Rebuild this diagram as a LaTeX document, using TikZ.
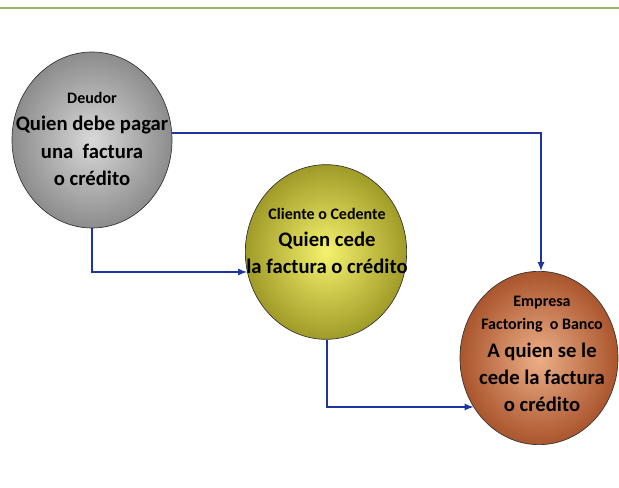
\documentclass[tikz,border=0pt]{standalone}
\usepackage{fontspec}
\setmainfont{Carlito}
\usepackage{tikz}
\usetikzlibrary{arrows,shapes.geometric}
\definecolor{lineagreen}{RGB}{155,181,110}
\definecolor{flechaazul}{RGB}{30,52,160}

\tikzset{
circulo/.style={ellipse,draw=black!80,line width=0.5pt,minimum width=120pt,minimum height=132pt,inner sep=0pt},
texto/.style={align=center,inner sep=0pt,font=\fontsize{15.5}{20.5}\selectfont\bfseries},
flecha/.style={->,>=latex,draw=flechaazul,line width=1.3pt},
}
\newcommand{\peque}{\fontsize{12}{15}\selectfont}

\begin{document}
\begin{tikzpicture}[x=0.75pt,y=-0.75pt]
\useasboundingbox (0,0) rectangle (619,488);
\draw[lineagreen,line width=1.5pt] (0,8) -- (619,8);
% circulos
\node[circulo,inner color=gray!30,outer color=gray!110!black] (deudor) at (92,140) {};
\node[circulo,minimum width=121pt,minimum height=131pt,inner color={rgb,255:red,245;green,242;blue,110},outer color={rgb,255:red,160;green,155;blue,40}] (cliente) at (326,252) {};
\node[circulo,minimum width=118.5pt,minimum height=130pt,inner color={rgb,255:red,236;green,175;blue,135},outer color={rgb,255:red,170;green,85;blue,45}] (empresa) at (539,358) {};
% textos
\node[texto] (deudor-t) at (92,139) {{\peque Deudor}\\
Quien debe pagar\\
una\ \ factura\\
o crédito};
\node[texto] (cliente-t) at (327,241) {{\peque Cliente o Cedente}\\
Quien cede\\
la factura o crédito};
\node[texto] (empresa-t) at (542,354) {{\peque Empresa}\\[-3pt]
{\peque Factoring\ \ o Banco}\\
A quien se le\\
cede la factura\\
o crédito};
% flechas
\coordinate (c1) at (541,133);
\coordinate (c2) at (92,272);
\coordinate (c3) at (327,407);
\draw[flecha] (deudor.east |- c1) -- (c1) -- (empresa.north -| c1);
\draw[flecha] (deudor.south) -- (c2) -- (cliente.194 |- c2);
\draw[flecha] (cliente.south -| c3) -- (c3) -- (empresa.217 |- c3);
\end{tikzpicture}
\end{document}
